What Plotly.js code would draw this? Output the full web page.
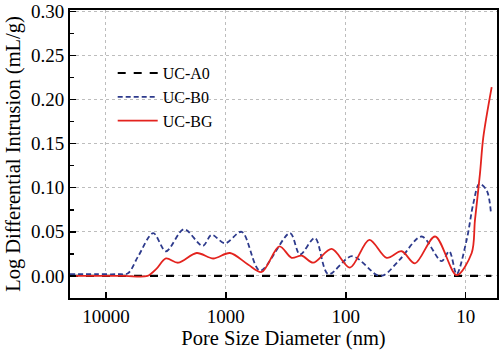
<!DOCTYPE html>
<html>
<head>
<meta charset="utf-8">
<script src="https://cdn.plot.ly/plotly-3.0.1.min.js"></script>
<style>html,body{margin:0;padding:0;background:#fff;}#chart{width:500px;height:353px;}</style>
</head>
<body>
<div id="chart"></div>
<script>
// Pore size diameter (nm) and log differential intrusion (mL/g)
const a0Diam = [19950, 6.1];
const a0Vals = [0, 0];

const b0Diam = [19950, 12000, 8000, 6553, 5400, 4033, 3160, 2236, 1562, 1314, 1017, 738, 519, 292, 241, 181, 140, 88.8, 54.9, 48, 35.3, 23.3, 15.9, 13.7, 11.9, 9.81, 8.64, 7.70, 6.68, 6.15];
const b0Vals = [0.002, 0.002, 0.002, 0.003, 0.022, 0.0485, 0.028, 0.053, 0.034, 0.0466, 0.037, 0.050, 0.006, 0.0485, 0.0243, 0.043, 0.002, 0.0224, 0.001, 0.001, 0.0187, 0.0447, 0.0168, 0.028, 0.002, 0.041, 0.082, 0.1045, 0.097, 0.071];

const bgDiam = [19950, 12000, 7000, 4500, 3800, 3160, 2495, 1752, 1274, 924, 654, 503, 358, 283, 233, 187, 131, 92.3, 63.7, 45.6, 34.2, 26.5, 18.0, 11.9, 8.91, 8.37, 7.60, 7.13, 6.07];
const bgVals = [0, 0, 0, 0, 0.008, 0.0198, 0.015, 0.026, 0.0198, 0.026, 0.013, 0.0045, 0.0336, 0.0206, 0.023, 0.015, 0.0306, 0.0094, 0.041, 0.0206, 0.028, 0.0142, 0.0447, 0.001, 0.026, 0.063, 0.116, 0.157, 0.214];

const seriesNames = ['UC-A0', 'UC-B0', 'UC-BG'];
const xTickVals = [10000, 1000, 100, 10];
const xTickText = ['10000', '1000', '100', '10'];
const yTickVals = [0, 0.05, 0.10, 0.15, 0.20, 0.25, 0.30];
const yTickText = ['0.00', '0.05', '0.10', '0.15', '0.20', '0.25', '0.30'];

const serif = "'Liberation Serif'";

const traces = [
  {x: a0Diam, y: a0Vals, name: seriesNames[0], mode: 'lines',
   line: {color: '#000000', width: 2.2, dash: '8px,8px'}},
  {x: b0Diam, y: b0Vals, name: seriesNames[1], mode: 'lines',
   line: {color: '#2d3a8c', width: 1.8, dash: '5px,3px', shape: 'spline', smoothing: 0.9}},
  {x: bgDiam, y: bgVals, name: seriesNames[2], mode: 'lines',
   line: {color: '#e3231e', width: 1.8, shape: 'spline', smoothing: 0.9}}
];

const layout = {
  width: 500, height: 353,
  margin: {l: 70, r: 3, t: 10, b: 55},
  paper_bgcolor: '#fff', plot_bgcolor: '#fff',
  font: {family: serif, color: '#000', size: 15},
  showlegend: true,
  legend: {x: 0.1, y: 0.84, xanchor: 'left', yanchor: 'top', bgcolor: 'rgba(0,0,0,0)',
           font: {family: serif, size: 16}, itemwidth: 40, tracegroupgap: 0},
  xaxis: {
    type: 'log', range: [Math.log10(19950), Math.log10(5.48)],
    tickvals: xTickVals, ticktext: xTickText,
    ticks: 'inside', ticklen: 6, tickwidth: 1.5, tickcolor: '#000',
    showline: true, linewidth: 2, linecolor: '#000', mirror: true,
    showgrid: true, gridcolor: '#bdbdbd', griddash: 'dot', gridwidth: 1,
    zeroline: false,
    tickfont: {family: serif, size: 19},
    title: {text: 'Pore Size Diameter (nm)', font: {family: serif, size: 20.5}, standoff: 2}
  },
  yaxis: {
    range: [-0.025, 0.3015],
    tickvals: yTickVals, ticktext: yTickText,
    ticks: 'inside', ticklen: 6, tickwidth: 1.5, tickcolor: '#000',
    minor: {ticks: 'inside', dtick: 0.025, tick0: 0, ticklen: 4, tickcolor: '#000', showgrid: false},
    showline: true, linewidth: 2, linecolor: '#000', mirror: true,
    showgrid: true, gridcolor: '#bdbdbd', griddash: 'dot', gridwidth: 1,
    zeroline: false,
    tickfont: {family: serif, size: 19},
    ticklabeloverflow: 'allow',
    title: {text: 'Log Differential Intrusion (mL/g)', font: {family: serif, size: 20.5}, standoff: 5}
  }
};

Plotly.newPlot('chart', traces, layout, {displayModeBar: false, staticPlot: true});
</script>
</body>
</html>
